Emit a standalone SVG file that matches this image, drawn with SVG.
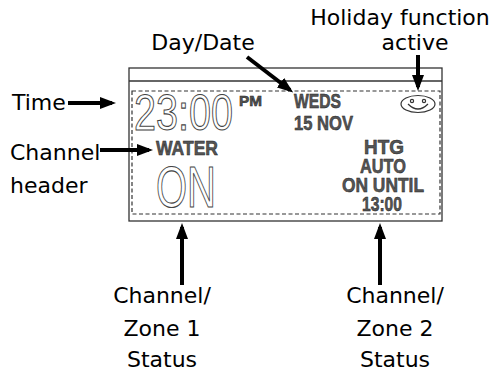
<svg xmlns="http://www.w3.org/2000/svg" width="495" height="374" viewBox="0 0 495 374">
<defs>
<style>
.lbl{font-family:"DejaVu Sans",sans-serif;font-size:22px;fill:#000}
.lcd{font-family:"Liberation Sans",Arial,sans-serif;font-weight:bold;fill:#555;stroke:#222;stroke-width:0.5}
.big{font-family:"Liberation Sans",Arial,sans-serif;fill:none;stroke:#444;stroke-width:1.1}
.arr{stroke:#000;stroke-width:4;fill:none}
.box{fill:none;stroke:#333;stroke-width:1.3}
.dash{fill:none;stroke:#333;stroke-width:1.2;stroke-dasharray:4 2.5}
.ico{fill:none;stroke:#333;stroke-width:1.2}
</style>
<marker id="ah" viewBox="0 0 16 12" refX="12" refY="6" markerWidth="16" markerHeight="12" orient="auto" markerUnits="userSpaceOnUse">
<path d="M0,0 L16,6 L0,12 Z" fill="#000"/>
</marker>
</defs>
<rect width="495" height="374" fill="#fff"/>
<g id="display">
<rect class="box" x="129" y="68" width="313" height="153"/>
<line class="box" x1="129" y1="81" x2="442" y2="81"/>
<rect class="dash" x="132" y="91" width="308" height="123"/>
</g>
<g id="time-digits">
<text class="big" x="134" y="130" font-size="50" textLength="99" lengthAdjust="spacingAndGlyphs">23:00</text>
<text class="lcd" x="239" y="106" font-size="14" textLength="23" lengthAdjust="spacingAndGlyphs">PM</text>
</g>
<g id="date">
<text class="lcd" x="294" y="108" font-size="20" textLength="47" lengthAdjust="spacingAndGlyphs">WEDS</text>
<text class="lcd" x="294" y="130" font-size="20" textLength="59" lengthAdjust="spacingAndGlyphs">15  NOV</text>
</g>
<g id="holiday-icon">
<ellipse class="ico" cx="418" cy="104" rx="17" ry="8.5"/>
<circle class="ico" cx="412" cy="101" r="1.6" stroke-width="1"/>
<circle class="ico" cx="424" cy="101" r="1.6" stroke-width="1"/>
<path class="ico" d="M408,104 Q418,114 428,104"/>
</g>
<g id="zone1">
<text class="lcd" x="156" y="155" font-size="20" textLength="62" lengthAdjust="spacingAndGlyphs">WATER</text>
<text class="big" x="156" y="207" font-size="57" textLength="60" lengthAdjust="spacingAndGlyphs">ON</text>
</g>
<g id="zone2">
<text class="lcd" x="364" y="154" font-size="20" textLength="40" lengthAdjust="spacingAndGlyphs">HTG</text>
<text class="lcd" x="360" y="173" font-size="20" textLength="46" lengthAdjust="spacingAndGlyphs">AUTO</text>
<text class="lcd" x="342" y="192" font-size="20" textLength="82" lengthAdjust="spacingAndGlyphs">ON  UNTIL</text>
<text class="lcd" x="362" y="211" font-size="20" textLength="40" lengthAdjust="spacingAndGlyphs">13:00</text>
</g>
<g id="labels">
<text class="lbl" x="400" y="25" text-anchor="middle">Holiday function</text>
<text class="lbl" x="415" y="50" text-anchor="middle">active</text>
<text class="lbl" x="203" y="50" text-anchor="middle">Day/Date</text>
<text class="lbl" x="12" y="110">Time</text>
<text class="lbl" x="10" y="160">Channel</text>
<text class="lbl" x="10" y="193">header</text>
<text class="lbl" x="162" y="303" text-anchor="middle">Channel/</text>
<text class="lbl" x="162" y="336" text-anchor="middle">Zone 1</text>
<text class="lbl" x="162" y="367" text-anchor="middle">Status</text>
<text class="lbl" x="395" y="303" text-anchor="middle">Channel/</text>
<text class="lbl" x="395" y="336" text-anchor="middle">Zone 2</text>
<text class="lbl" x="395" y="367" text-anchor="middle">Status</text>
</g>
<g id="connectors">
<line class="arr" x1="68" y1="103" x2="112" y2="103" marker-end="url(#ah)"/>
<line class="arr" x1="100" y1="150" x2="149" y2="150" marker-end="url(#ah)"/>
<line class="arr" x1="247" y1="57" x2="290" y2="90" marker-end="url(#ah)"/>
<line class="arr" x1="418" y1="55" x2="418" y2="87" marker-end="url(#ah)"/>
<line class="arr" x1="182" y1="285" x2="182" y2="227" marker-end="url(#ah)"/>
<line class="arr" x1="380" y1="285" x2="380" y2="227" marker-end="url(#ah)"/>
</g>
</svg>
